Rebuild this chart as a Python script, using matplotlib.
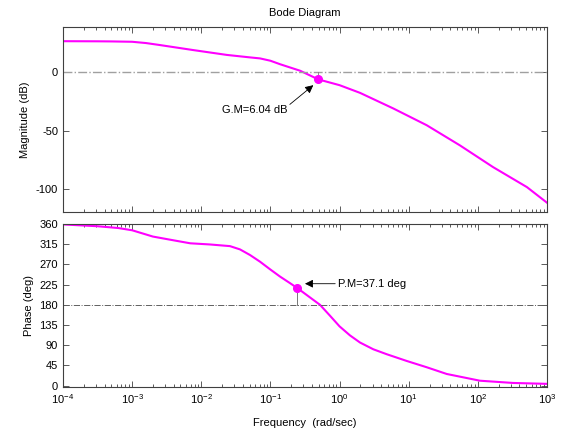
import numpy as np
import matplotlib
matplotlib.use("Agg")
import matplotlib.pyplot as plt
from matplotlib.ticker import LogLocator, NullFormatter

plt.rcParams['font.family'] = ['Liberation Sans', 'DejaVu Sans']
plt.rcParams['font.size'] = 8
plt.rcParams['axes.unicode_minus'] = False

# Magnitude curve (log10 of frequency, dB)
mag_logw = [-4, -3.5, -3.3, -3, -2.8, -2.6, -2.12, -1.63, -1.3, -1.15, -1.0,
            -0.86, -0.57, -0.307, 0, 0.296, 0.777, 1.26, 1.74, 2.22, 2.71, 3]
mag_db = [26.8, 26.7, 26.6, 26.3, 25.2, 23.5, 19.2, 15, 12.9, 12, 10,
          7, 1.4, -6.04, -11, -17.6, -31, -45.4, -62.7, -81.4, -98.6, -112]

# Phase curve (log10 of frequency, deg)
ph_logw = [-4, -3.5, -3.2, -3, -2.7, -2.45, -2.16, -1.874, -1.585, -1.44,
           -1.295, -1.15, -1.006, -0.862, -0.717, -0.609, -0.45, -0.283,
           -0.14, 0, 0.15, 0.296, 0.488, 0.682, 0.971, 1.26, 1.55, 2.03,
           2.51, 3]
ph_deg = [359, 355, 351, 346, 332, 325, 317, 314.4, 310.7, 303.4,
          290.9, 276, 259.2, 243, 228.3, 217.1, 199, 180,
          156, 132, 112, 96, 81, 70, 55, 41, 26, 11,
          6, 4]

# margins
gm_w, gm_db = 0.493, -6.04
pm_w, pm_deg = 0.246, 217.1

w_mag = 10.0 ** np.array(mag_logw)
w_ph = 10.0 ** np.array(ph_logw)

fig = plt.figure(figsize=(5.61, 4.34), dpi=100)
ax1 = fig.add_axes([0.1123, 0.5115, 0.8627, 0.4263])
ax2 = fig.add_axes([0.1123, 0.1083, 0.8627, 0.3756])

col = '#ff00ff'

# magnitude
ax1.semilogx(w_mag, mag_db, color=col, lw=1.5)
ax1.axhline(0, color='#a0a0a0', lw=1.0, ls='-.')
ax1.plot([gm_w, gm_w], [0, gm_db], color='#808080', lw=0.6)
ax1.plot(gm_w, gm_db, 'o', color=col, ms=5.5)
ax1.annotate('G.M=6.04 dB', xy=(0.417, -11), xytext=(0.174, -32.5),
             ha='right', va='center',
             arrowprops=dict(arrowstyle='-|>', color='black', lw=0.6,
                             mutation_scale=12, shrinkA=0, shrinkB=0,
                             relpos=(1, 0.85)))
ax1.set_ylim(-120, 39)
ax1.set_yticks([0, -50, -100])
ax1.set_ylabel('Magnitude (dB)')
ax1.set_title('Bode Diagram', fontsize=8, pad=8)
ax1.xaxis.set_major_formatter(NullFormatter())

# phase
ax2.semilogx(w_ph, ph_deg, color=col, lw=1.5)
ax2.axhline(180, color='#606060', lw=0.7, ls='-.')
ax2.plot([pm_w, pm_w], [180, pm_deg], color='#606060', lw=0.6)
ax2.plot(pm_w, pm_deg, 'o', color=col, ms=5.5)
ax2.annotate('P.M=37.1 deg', xy=(0.316, 227), xytext=(0.949, 227),
             ha='left', va='center',
             arrowprops=dict(arrowstyle='-|>', color='black', lw=0.6,
                             mutation_scale=12, shrinkA=0, shrinkB=0,
                             relpos=(0, 0.5)))
ax2.set_ylim(-3, 360)
ax2.set_yticks(np.arange(0, 361, 45))
ax2.set_ylabel('Phase (deg)')
ax2.set_xlabel('Frequency  (rad/sec)', labelpad=9)

for ax in (ax1, ax2):
    ax.set_xlim(1e-4, 1e3)
    ax.xaxis.set_major_locator(LogLocator(base=10, numticks=20))
    ax.xaxis.set_minor_locator(LogLocator(base=10, subs=np.arange(2, 10), numticks=20))
    ax.xaxis.set_minor_formatter(NullFormatter())
    ax.tick_params(which='both', direction='in', top=True, right=True,
                   colors='#404040', labelcolor='black', labelsize=8)
    ax.tick_params(which='major', length=4, width=0.6)
    ax.tick_params(which='minor', length=2, width=0.6)
    for s in ax.spines.values():
        s.set_color('#404040')
        s.set_linewidth(0.8)

fig.savefig('out.png', dpi=100)
